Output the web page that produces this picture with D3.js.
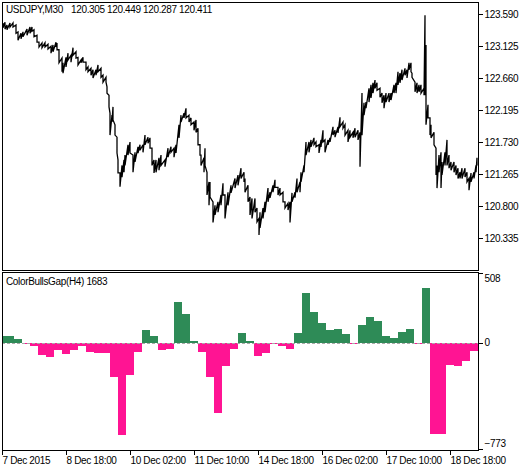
<!DOCTYPE html>
<html><head><meta charset="utf-8">
<script src="https://cdn.jsdelivr.net/npm/d3@7"></script>
<style>
body{margin:0;background:#fff}
text{font-family:"Liberation Sans",Arial,sans-serif;font-size:10px;letter-spacing:-0.35px;fill:#000}
</style>
</head><body><svg id="c" width="530" height="470"></svg>
<script>
// ---- data ----
const symbolTitle = "USDJPY,M30";
const ohlc = ["120.305", "120.449", "120.287", "120.411"];
const indicatorTitle = "ColorBullsGap(H4) 1683";

// M30 bar number from the first visible bar
const priceBar = [1,3,5,8,11,14,16,19,21,25,
28,30,32,35,37,40,43,46,49,51,
54,55,57,60,61,64,66,69,71,74,
76,79,81,84,86,89,91,94,96,99,
101,104,105,107,108,110,111,113,115,116,
118,120,122,123,126,128,131,133,136,138,
141,143,146,148,150,152,154,157,159,163,
166,169,172,174,177,179,182,184,187,189,
192,194,196,198,199,202,203,205,207,208,
211,213,216,219,221,223,226,229,233,236,
239,242,243,246,248,250,253,255,257,258,
261,263,266,268,271,273,276,278,281,283,
286,288,290,293,295,298,299,302,304,307,
309,312,314,317,319,321,323,326,328,331,
333,336,338,341,343,346,348,351,353,356,
358,360,362,364,367,369,371,373,375,378,
380,382,384,387,389,392,394,396,398,400,
403,405,407,409,410,413,415,417,419,422,
423,424,426,428,429,432,434,435,437,439,
440,443,445,447,449,452,454,456,458,460,
463,465,467,469,472,474,475];
const priceHigh = [123.46,123.47,123.43,123.46,123.46,123.43,123.33,123.31,123.33,123.37,
123.40,123.40,123.36,123.28,123.18,123.17,123.17,123.15,123.12,123.14,
123.18,123.17,123.07,122.95,122.88,122.96,123.02,122.99,123.10,123.04,
122.96,122.92,122.96,122.89,122.82,122.80,122.78,122.78,122.85,122.80,
122.70,122.67,122.53,122.41,122.15,122.12,122.24,121.98,121.80,121.47,
121.28,121.39,121.47,121.54,121.69,121.73,121.54,121.58,121.66,121.69,
121.69,121.83,121.80,121.79,121.64,121.47,121.47,121.50,121.54,121.47,
121.64,121.66,121.64,121.69,121.98,122.12,122.15,122.22,122.12,122.08,
122.02,122.05,121.93,121.69,121.54,121.50,121.64,121.29,121.15,121.15,
120.86,120.81,120.86,120.96,121.13,120.96,121.00,121.10,121.20,121.25,
121.35,121.29,121.20,121.10,120.93,120.91,120.91,120.77,120.62,120.71,
120.77,120.86,121.06,121.00,121.10,121.18,121.07,121.06,121.00,120.86,
120.84,120.86,120.99,121.00,121.20,121.15,121.29,121.39,121.73,121.73,
121.76,121.79,121.73,121.69,121.76,121.90,121.76,121.76,121.79,121.95,
121.90,121.95,122.09,122.02,121.98,121.90,121.90,121.87,121.93,121.90,
121.87,122.44,122.30,122.31,122.51,122.56,122.59,122.63,122.59,122.51,
122.44,122.41,122.44,122.44,122.44,122.56,122.59,122.75,122.73,122.78,
122.80,122.78,122.88,122.88,122.73,122.60,122.59,122.56,122.56,122.51,
123.57,123.14,122.27,122.08,121.98,121.87,121.64,121.39,121.54,121.58,
121.44,121.58,121.76,121.54,121.44,121.44,121.39,121.35,121.29,121.35,
121.35,121.29,121.20,121.28,121.29,121.39,121.50];
const priceLow = [123.39,123.37,123.36,123.40,123.40,123.31,123.21,123.23,123.26,123.28,
123.31,123.34,123.26,123.18,123.11,123.10,123.11,123.08,123.02,123.04,
123.11,123.07,122.88,122.75,122.73,122.82,122.92,122.89,122.99,122.95,
122.85,122.88,122.89,122.78,122.75,122.70,122.66,122.70,122.75,122.67,
122.60,122.60,122.44,122.24,121.83,122.02,122.05,121.83,121.57,121.28,
121.08,121.22,121.29,121.39,121.54,121.57,121.29,121.44,121.57,121.61,
121.58,121.69,121.71,121.64,121.39,121.28,121.29,121.32,121.39,121.37,
121.51,121.58,121.51,121.57,121.79,122.02,122.08,122.08,122.02,121.98,
121.90,121.87,121.69,121.54,121.39,121.29,121.39,120.96,120.81,120.93,
120.56,120.67,120.71,120.81,120.96,120.62,120.81,120.99,121.06,121.10,
121.20,121.15,121.00,120.86,120.67,120.62,120.71,120.57,120.38,120.48,
120.62,120.71,120.86,120.92,121.00,121.07,120.96,120.96,120.86,120.77,
120.74,120.56,120.86,120.92,121.00,121.00,121.15,121.29,121.54,121.58,
121.66,121.69,121.66,121.57,121.66,121.73,121.58,121.69,121.73,121.83,
121.80,121.86,121.95,121.93,121.83,121.73,121.80,121.79,121.80,121.76,
121.37,121.83,122.12,122.22,122.31,122.37,122.44,122.51,122.48,122.38,
122.30,122.22,122.31,122.31,122.34,122.44,122.44,122.56,122.59,122.63,
122.70,122.66,122.78,122.75,122.67,122.46,122.44,122.46,122.44,122.41,
122.41,121.98,122.08,121.83,121.79,121.69,121.25,121.06,121.29,121.06,
121.25,121.39,121.39,121.35,121.32,121.29,121.25,121.20,121.20,121.20,
121.22,121.15,121.03,121.15,121.20,121.29,121.39];

// H4 indicator values (each H4 bar = 8 M30 bars), first starts at bar -4
const gapValues = [51,51,29,-7,-20,-93,-107,-51,-85,-51,
-27,-64,-73,-78,-253,-672,-239,-71,95,46,
-56,-42,301,212,15,-64,-253,-513,-173,-42,
71,15,-100,-75,-7,-20,-49,73,365,226,
146,95,102,66,-12,131,190,161,51,36,
80,102,-12,401,-664,-664,-161,-168,-131,-58];
const gapStartBar = -4, barsPerH4 = 8;

const priceTicks = [123.590,123.125,122.660,122.195,121.730,121.265,120.800,120.335];
const gapTicks = [508, 0, -773];
const timeTickBars = [0,64,128,192,256,320,384,448];
const timeLabels = ["7 Dec 2015","8 Dec 18:00","10 Dec 02:00","11 Dec 10:00","14 Dec 18:00","16 Dec 02:00","17 Dec 10:00","18 Dec 18:00"];

// ---- layout ----
const L = 2, R = 478;
const mainTop = 2, mainBot = 270, indTop = 272, indBot = 450;
const svg = d3.select("#c");

const x = d3.scaleLinear().domain([0, 476]).range([L, R]);
const yP = d3.scaleLinear().domain([119.870, 123.764]).range([mainBot, mainTop]);
const yG = d3.scaleLinear().domain([-773, 508]).range([448.5, 273.3]);

const defs = svg.append("defs");
defs.append("clipPath").attr("id","cm").append("rect").attr("x",L).attr("y",mainTop).attr("width",R-L).attr("height",mainBot-mainTop);
defs.append("clipPath").attr("id","ci").append("rect").attr("x",L+0.5).attr("y",indTop).attr("width",R-L-0.5).attr("height",indBot-indTop);

// price zigzag (high-low per bar)
const pts = [];
priceBar.forEach((b,i)=>{ pts.push([x(b), yP(priceHigh[i])]); pts.push([x(b), yP(priceLow[i])]); });
svg.append("path").attr("clip-path","url(#cm)")
  .attr("d", d3.line()(pts)).attr("fill","none").attr("stroke","#000").attr("stroke-width",1.3)
  .attr("stroke-linejoin","miter");

// histogram
const gi = svg.append("g").attr("clip-path","url(#ci)").attr("shape-rendering","crispEdges");
gi.selectAll("rect").data(gapValues).join("rect")
  .attr("x",(d,i)=>x(gapStartBar + i*barsPerH4))
  .attr("width",(d,i)=>x(gapStartBar+(i+1)*barsPerH4)-x(gapStartBar+i*barsPerH4))
  .attr("y",d=>Math.min(yG(d),yG(0)))
  .attr("height",d=>Math.abs(yG(d)-yG(0)))
  .attr("fill",d=>d>=0?"#2E8B57":"#FF1493");
svg.append("line").attr("x1",L).attr("x2",R).attr("y1",Math.round(yG(0))+0.5).attr("y2",Math.round(yG(0))+0.5)
  .attr("stroke","#a8a8a8").attr("stroke-dasharray","3,2").attr("shape-rendering","crispEdges");

// frames
const fr = svg.append("g").attr("fill","none").attr("stroke","#000").attr("shape-rendering","crispEdges");
fr.append("rect").attr("x",L+0.5).attr("y",mainTop+0.5).attr("width",R-L-0.5).attr("height",mainBot-mainTop);
fr.append("rect").attr("x",L+0.5).attr("y",indTop+0.5).attr("width",R-L-0.5).attr("height",indBot-indTop);

// axes
const ap = svg.append("g").attr("transform",`translate(${R+0.5},0)`)
  .call(d3.axisRight(yP).tickValues(priceTicks).tickFormat(d3.format(".3f")).tickSize(4).tickPadding(2));
const ag = svg.append("g").attr("transform",`translate(${R+0.5},0)`)
  .call(d3.axisRight(yG).tickValues(gapTicks).tickFormat(d3.format("d")).tickSize(4).tickPadding(2));
ag.selectAll(".tick text").attr("dy",d=>d===508?"0.8em":(d===-773?"-0.2em":"0.32em"));
const ax = svg.append("g").attr("transform",`translate(0,${indBot+0.5})`)
  .call(d3.axisBottom(x).tickValues(timeTickBars).tickFormat((d,i)=>timeLabels[i]).tickSize(4).tickPadding(2));
ax.selectAll(".tick text").attr("text-anchor","start").attr("x",0);
[ap,ag,ax].forEach(a=>{
  a.select(".domain").remove();
  a.attr("font-family",null).attr("font-size",null);
  a.selectAll(".tick line").attr("stroke","#000").attr("shape-rendering","crispEdges");
  a.selectAll(".tick text").attr("fill","#000");
});

// titles
svg.append("text").attr("x",6).attr("y",13).text(symbolTitle);
svg.selectAll("text.ohlc").data(ohlc).join("text").attr("class","ohlc")
  .attr("x",(d,i)=>71+i*36).attr("y",13).text(d=>d);
svg.append("text").attr("x",6).attr("y",285).text(indicatorTitle);
</script></body></html>
